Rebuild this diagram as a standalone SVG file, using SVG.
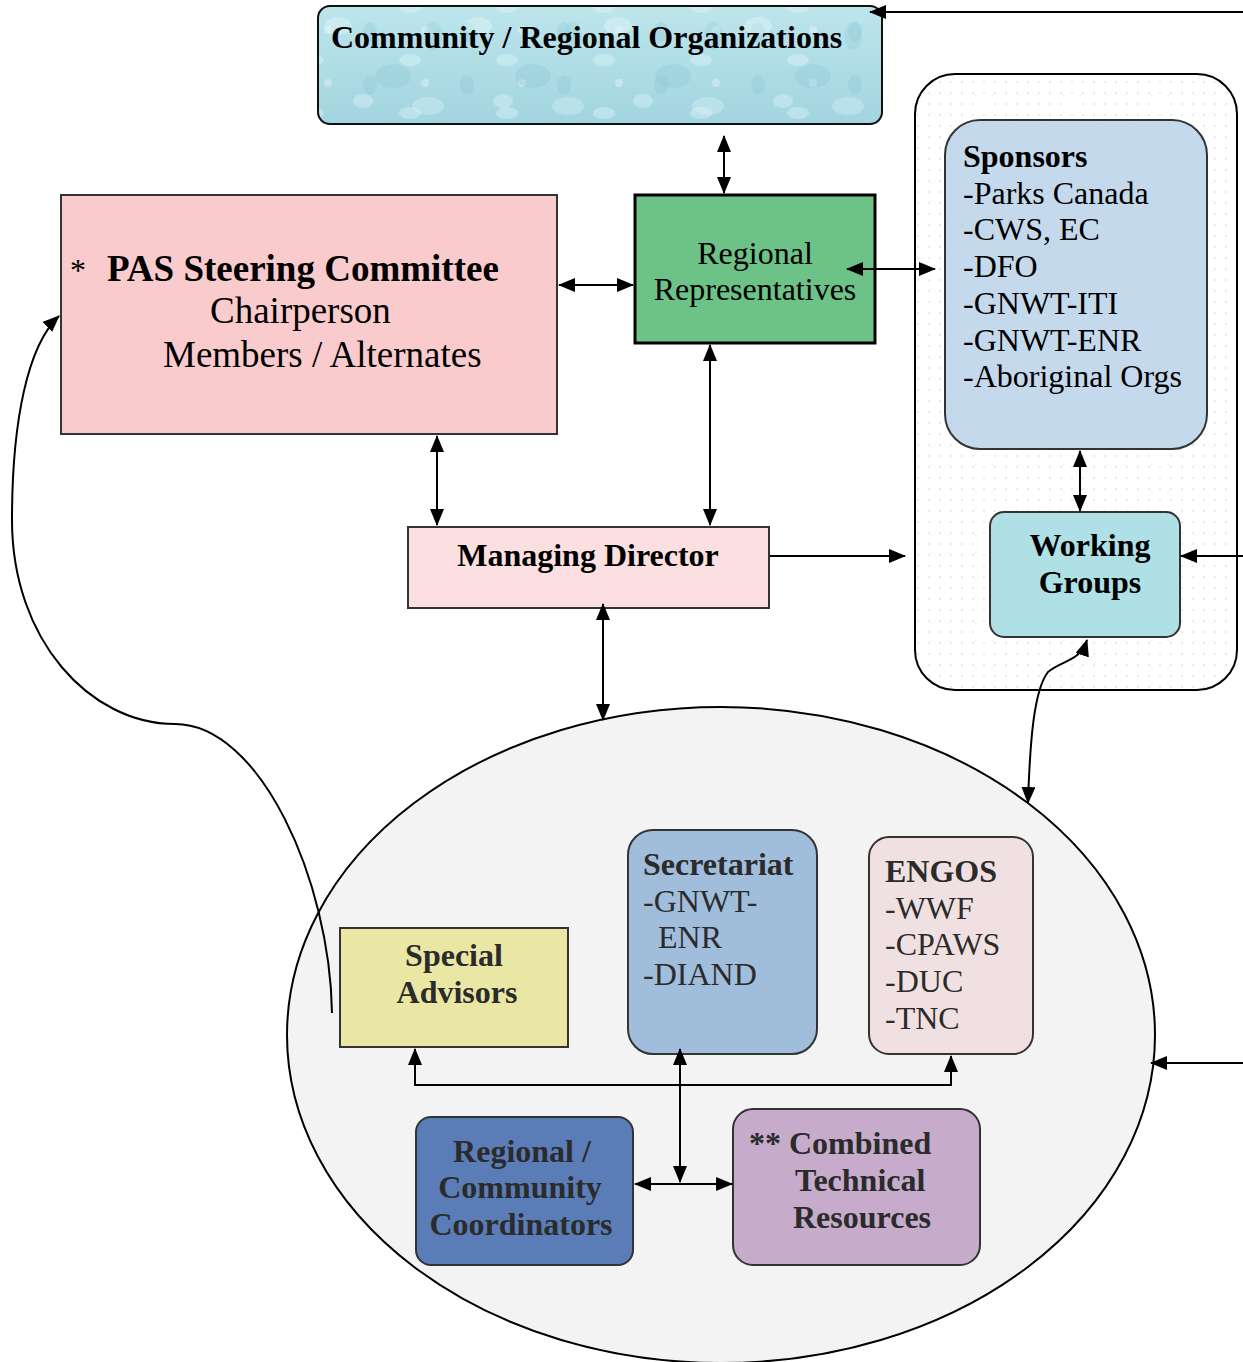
<svg xmlns="http://www.w3.org/2000/svg" width="1243" height="1362" viewBox="0 0 1243 1362">
<defs>
<style>
.t{font-family:"Liberation Serif","Times New Roman",serif;font-size:32px;fill:#000}
.b{font-weight:bold}
.g{fill:#2b2b2b}
.c{text-anchor:middle}
.ln{fill:none;stroke:#000;stroke-width:2}
.bx{stroke:#333;stroke-width:2}
</style>
<marker id="ah" viewBox="0 0 17 14" refX="16" refY="7" markerWidth="17" markerHeight="14" markerUnits="userSpaceOnUse" orient="auto-start-reverse">
<path d="M0,0 L17,7 L0,14 z" fill="#000"/>
</marker>
<pattern id="dots" width="11" height="11" patternUnits="userSpaceOnUse">
<rect width="11" height="11" fill="#fff"/>
<circle cx="5" cy="5" r="0.7" fill="#c8c8d0"/>
</pattern>
<pattern id="dots2" width="11" height="11" patternUnits="userSpaceOnUse">
<circle cx="5" cy="5" r="0.7" fill="#b0bccc" fill-opacity="0.6"/>
</pattern>
<linearGradient id="wg" x1="0" y1="0" x2="0" y2="1">
<stop offset="0" stop-color="#bde5ec"/>
<stop offset="1" stop-color="#a2d5e0"/>
</linearGradient>
<pattern id="water" width="140" height="118" patternUnits="userSpaceOnUse" x="318" y="6">
<ellipse cx="20" cy="20" rx="14" ry="9" fill="#e6f7fa" fill-opacity="0.4"/>
<ellipse cx="75" cy="70" rx="18" ry="12" fill="#7fc0d0" fill-opacity="0.25"/>
<ellipse cx="45" cy="95" rx="10" ry="7" fill="#e6f7fa" fill-opacity="0.35"/>
<ellipse cx="115" cy="30" rx="9" ry="14" fill="#86c6d5" fill-opacity="0.25"/>
<ellipse cx="110" cy="100" rx="16" ry="9" fill="#e0f4f8" fill-opacity="0.35"/>
</pattern>
<pattern id="water2" width="97" height="53" patternUnits="userSpaceOnUse" x="340" y="20">
<ellipse cx="30" cy="12" rx="7" ry="10" fill="#88c6d4" fill-opacity="0.3"/>
<ellipse cx="70" cy="40" rx="11" ry="6" fill="#eaf8fb" fill-opacity="0.35"/>
<circle cx="85" cy="10" r="4" fill="#eaf8fb" fill-opacity="0.4"/>
</pattern>
</defs>

<g id="outer-container">
<rect x="915" y="74" width="322" height="616" rx="40" fill="url(#dots)" stroke="#000" stroke-width="2"/>
</g>

<g id="community">
<rect x="318" y="6" width="564" height="118" rx="12" fill="url(#wg)"/>
<rect x="318" y="6" width="564" height="118" rx="12" fill="url(#water2)"/>
<rect x="318" y="6" width="564" height="118" rx="12" fill="url(#water)" stroke="#111" stroke-width="2"/>
<text class="t b" x="331" y="48">Community / Regional Organizations</text>
</g>

<g id="sponsors">
<rect x="945" y="120" width="262" height="329" rx="35" fill="#c5d9ec" class="bx"/>
<rect x="945" y="120" width="262" height="329" rx="35" fill="url(#dots2)"/>
<text class="t" x="963" y="167"><tspan class="b">Sponsors</tspan><tspan x="963" dy="36.7">-Parks Canada</tspan><tspan x="963" dy="36.7">-CWS, EC</tspan><tspan x="963" dy="36.7">-DFO</tspan><tspan x="963" dy="36.7">-GNWT-ITI</tspan><tspan x="963" dy="36.7">-GNWT-ENR</tspan><tspan x="963" dy="36.7">-Aboriginal Orgs</tspan></text>
</g>

<g id="working-groups">
<rect x="990" y="512" width="190" height="125" rx="14" fill="#aee0e6" class="bx"/>
<text class="t b c" x="1090" y="556">Working</text>
<text class="t b c" x="1090" y="593">Groups</text>
</g>

<g id="regional-representatives">
<rect x="635" y="195" width="240" height="148" fill="#6cc287" stroke="#000" stroke-width="3"/>
<text class="t c" x="755" y="264">Regional</text>
<text class="t c" x="755" y="300">Representatives</text>
</g>

<g id="pas-steering-committee">
<rect x="61" y="195" width="496" height="239" fill="#f9cbcd" class="bx"/>
<text class="t" x="70" y="281">*</text>
<text class="t b" x="107" y="281" style="font-size:37px">PAS Steering Committee</text>
<text class="t" x="210" y="323" style="font-size:37px">Chairperson</text>
<text class="t" x="163" y="367" style="font-size:37px">Members / Alternates</text>
</g>

<g id="managing-director">
<rect x="408" y="527" width="361" height="81" fill="#fbdfe1" class="bx"/>
<text class="t b c" x="588" y="566">Managing Director</text>
</g>

<g id="ellipse-group">
<ellipse cx="721" cy="1035" rx="434" ry="328" fill="#f3f3f3" stroke="#000" stroke-width="2"/>
</g>

<g id="special-advisors">
<rect x="340" y="928" width="228" height="119" fill="#eae7a4" class="bx"/>
<text class="t b g c" x="454" y="966">Special</text>
<text class="t b g c" x="457" y="1003">Advisors</text>
</g>

<g id="secretariat">
<rect x="628" y="830" width="189" height="224" rx="25" fill="#a0bddb" class="bx"/>
<text class="t g" x="643" y="875"><tspan class="b">Secretariat</tspan><tspan x="643" dy="36.7">-GNWT-</tspan><tspan x="658" dy="36.7">ENR</tspan><tspan x="643" dy="36.7">-DIAND</tspan></text>
</g>

<g id="engos">
<rect x="869" y="837" width="164" height="217" rx="20" fill="#f0e0e1" class="bx"/>
<text class="t g" x="885" y="882"><tspan class="b">ENGOS</tspan><tspan x="885" dy="36.7">-WWF</tspan><tspan x="885" dy="36.7">-CPAWS</tspan><tspan x="885" dy="36.7">-DUC</tspan><tspan x="885" dy="36.7">-TNC</tspan></text>
</g>

<g id="coordinators">
<rect x="416" y="1117" width="217" height="148" rx="15" fill="#5a7db8" class="bx"/>
<text class="t b g c" x="522" y="1162">Regional /</text>
<text class="t b g c" x="520" y="1198">Community</text>
<text class="t b g c" x="521" y="1235">Coordinators</text>
</g>

<g id="technical-resources">
<rect x="733" y="1109" width="247" height="156" rx="20" fill="#c6abcb" class="bx"/>
<text class="t b g" x="749" y="1154">** Combined</text>
<text class="t b g" x="795" y="1191">Technical</text>
<text class="t b g" x="793" y="1228">Resources</text>
</g>

<g id="connectors">
<line class="ln" x1="1243" y1="12" x2="870" y2="12" marker-end="url(#ah)"/>
<line class="ln" x1="724" y1="136" x2="724" y2="193" marker-start="url(#ah)" marker-end="url(#ah)"/>
<line class="ln" x1="847" y1="269" x2="935" y2="269" marker-start="url(#ah)" marker-end="url(#ah)"/>
<line class="ln" x1="559" y1="285" x2="633" y2="285" marker-start="url(#ah)" marker-end="url(#ah)"/>
<line class="ln" x1="437" y1="436" x2="437" y2="525" marker-start="url(#ah)" marker-end="url(#ah)"/>
<line class="ln" x1="710" y1="345" x2="710" y2="525" marker-start="url(#ah)" marker-end="url(#ah)"/>
<line class="ln" x1="770" y1="556" x2="905" y2="556" marker-end="url(#ah)"/>
<line class="ln" x1="603" y1="604" x2="603" y2="720" marker-start="url(#ah)" marker-end="url(#ah)"/>
<line class="ln" x1="1080" y1="451" x2="1080" y2="511" marker-start="url(#ah)" marker-end="url(#ah)"/>
<line class="ln" x1="1243" y1="556" x2="1181" y2="556" marker-end="url(#ah)"/>
<line class="ln" x1="1243" y1="1063" x2="1151" y2="1063" marker-end="url(#ah)"/>
<path class="ln" d="M1028,803 C1030,740 1034,690 1048,672 C1062,660 1080,662 1087,640" marker-start="url(#ah)" marker-end="url(#ah)"/>
<path class="ln" d="M332,1013 C330,880 260,724 175,724 C90,724 12,640 12,520 C12,420 28,345 59,316" marker-end="url(#ah)"/>
<polyline class="ln" points="415,1049 415,1085 951,1085 951,1056" marker-start="url(#ah)" marker-end="url(#ah)"/>
<line class="ln" x1="680" y1="1049" x2="680" y2="1182" marker-start="url(#ah)" marker-end="url(#ah)"/>
<line class="ln" x1="635" y1="1184" x2="732" y2="1184" marker-start="url(#ah)" marker-end="url(#ah)"/>
</g>
</svg>
